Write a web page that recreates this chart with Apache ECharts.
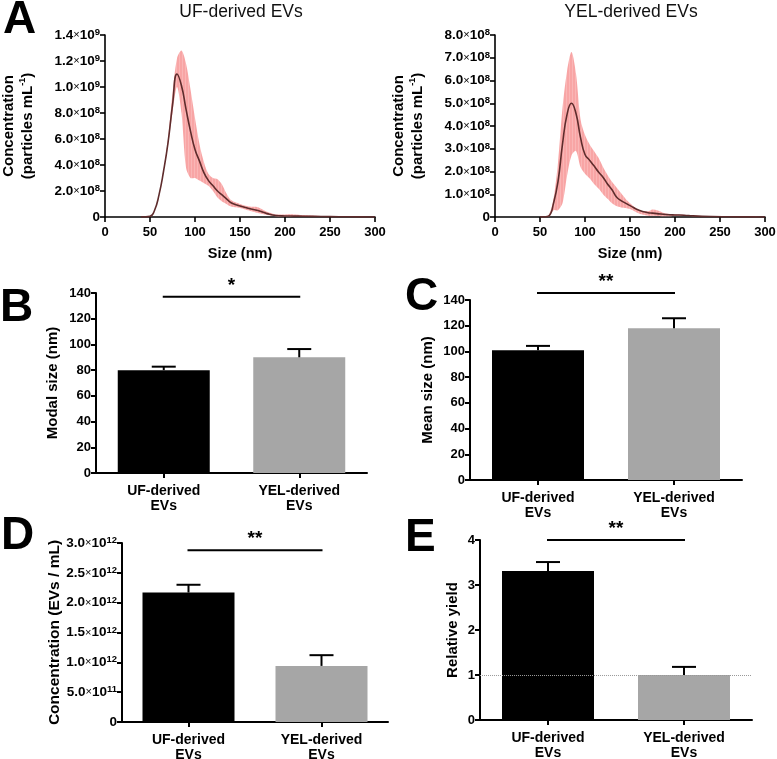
<!DOCTYPE html>
<html>
<head>
<meta charset="utf-8">
<script src="https://cdn.jsdelivr.net/npm/echarts@6/dist/echarts.min.js"></script>
<style>html,body{margin:0;padding:0;background:#fff}#c{width:777px;height:759px}</style>
</head>
<body>
<div id="c"></div>
<script>
// ---------- DATA ----------
// Panel A (left): UF-derived EVs size distribution (particles/mL)
const ufSize  = [40, 50, 55, 60, 65, 70, 75, 80, 85, 90, 95, 100, 105, 110, 115, 120, 125, 130, 135, 140, 150, 160, 170, 180, 190, 200, 210, 220, 240, 260, 280, 300];
const ufMean  = [0, 0.005e9, 0.05e9, 0.17e9, 0.35e9, 0.57e9, 0.86e9, 1.10e9, 1.01e9, 0.83e9, 0.66e9, 0.52e9, 0.43e9, 0.34e9, 0.28e9, 0.24e9, 0.20e9, 0.17e9, 0.14e9, 0.11e9, 0.085e9, 0.065e9, 0.05e9, 0.026e9, 0.011e9, 0.008e9, 0.007e9, 0.006e9, 0.004e9, 0.002e9, 0.001e9, 0];
const ufUpper = [0, 0.005e9, 0.05e9, 0.17e9, 0.36e9, 0.60e9, 0.95e9, 1.22e9, 1.28e9, 1.18e9, 0.98e9, 0.76e9, 0.56e9, 0.42e9, 0.33e9, 0.30e9, 0.29e9, 0.25e9, 0.18e9, 0.13e9, 0.10e9, 0.08e9, 0.075e9, 0.04e9, 0.02e9, 0.02e9, 0.02e9, 0.015e9, 0.008e9, 0.004e9, 0.002e9, 0];
const ufLower = [0, 0.005e9, 0.05e9, 0.16e9, 0.34e9, 0.55e9, 0.80e9, 1.00e9, 0.80e9, 0.38e9, 0.30e9, 0.30e9, 0.28e9, 0.26e9, 0.24e9, 0.20e9, 0.15e9, 0.12e9, 0.10e9, 0.08e9, 0.07e9, 0.05e9, 0.03e9, 0.015e9, 0.005e9, 0.003e9, 0.002e9, 0.002e9, 0.001e9, 0, 0, 0];

// Panel A (right): YEL-derived EVs size distribution (particles/mL)
const yelSize  = [50, 55, 60, 65, 70, 75, 80, 85, 90, 95, 100, 105, 110, 115, 120, 125, 130, 135, 140, 145, 150, 160, 170, 175, 180, 190, 200, 210, 220, 240, 260, 280, 300];
const yelMean  = [0, 0.005e8, 0.05e8, 0.6e8, 1.55e8, 3.2e8, 4.5e8, 5.0e8, 4.55e8, 3.5e8, 2.75e8, 2.5e8, 2.25e8, 1.98e8, 1.75e8, 1.45e8, 1.2e8, 0.88e8, 0.72e8, 0.61e8, 0.5e8, 0.3e8, 0.19e8, 0.17e8, 0.15e8, 0.11e8, 0.09e8, 0.08e8, 0.05e8, 0.02e8, 0.01e8, 0.005e8, 0];
const yelUpper = [0, 0.01e8, 0.1e8, 0.8e8, 2.4e8, 4.8e8, 6.4e8, 7.25e8, 6.3e8, 4.3e8, 3.6e8, 3.2e8, 2.9e8, 2.6e8, 2.2e8, 1.85e8, 1.55e8, 1.3e8, 1.05e8, 0.8e8, 0.6e8, 0.3e8, 0.25e8, 0.33e8, 0.3e8, 0.15e8, 0.12e8, 0.1e8, 0.07e8, 0.03e8, 0.015e8, 0.008e8, 0];
const yelLower = [0, 0, 0.02e8, 0.3e8, 0.3e8, 0.6e8, 1.8e8, 2.7e8, 2.9e8, 2.2e8, 1.9e8, 1.7e8, 1.45e8, 1.25e8, 1.0e8, 0.8e8, 0.6e8, 0.48e8, 0.42e8, 0.4e8, 0.35e8, 0.15e8, 0.05e8, 0.05e8, 0.04e8, 0.03e8, 0.04e8, 0.05e8, 0.03e8, 0.01e8, 0.005e8, 0.002e8, 0];

// Bar panels
const groups = ['UF-derived\nEVs', 'YEL-derived\nEVs'];
const modalSize = [80, 90];        const modalSD = [2.7, 6.4];
const meanSize  = [101, 118];      const meanSD  = [3.3, 7.8];
const concEV    = [2.17e12, 0.94e12]; const concSD = [0.13e12, 0.18e12];
const relYield  = [3.31, 1.0];     const yieldSD = [0.2, 0.18];
const sigLevels = [137, 145.5, 2.88e12, 4.0];
const sigLabels = ['*', '**', '**', '**'];
const refLineYield = [1];

// ---------- HELPERS ----------
const FONT = 'Arial, "Liberation Sans", Helvetica, sans-serif';
const pairs = (xs, ys) => xs.map((x, i) => [x, ys[i]]);

function sci(v) {
  if (v === 0) return '{m|0}';
  const e = Math.floor(Math.log10(v) + 1e-9);
  const m = (v / Math.pow(10, e)).toFixed(1);
  return '{m|' + m + '}{x|×}{m|10}{s|' + e + '}';
}
const sciRich = {
  m: {fontFamily: FONT, fontWeight: 'bold', fontSize: 13.5, color: '#000', lineHeight: 15},
  x: {fontFamily: FONT, fontSize: 11, color: '#000', lineHeight: 15},
  s: {fontFamily: FONT, fontWeight: 'bold', fontSize: 9.5, color: '#000', verticalAlign: 'top', lineHeight: 15, padding: [0, 0, 6, 0]}
};

const axLine = w => ({show: true, lineStyle: {color: '#000', width: w}});
const axTick = w => ({show: true, length: 5, lineStyle: {color: '#000', width: w}});
const lblStyle = (fs) => ({color: '#000', fontWeight: 'bold', fontSize: fs, fontFamily: FONT});

// subtly striped pink pattern for the SD band
const pat = document.createElement('canvas');
pat.width = 3; pat.height = 3;
(function () {
  const c = pat.getContext('2d');
  c.fillStyle = '#f8a5a5'; c.fillRect(0, 0, 3, 3);
  c.fillStyle = '#fab6b6'; c.fillRect(2, 0, 1, 3);
})();

const grids = [
  {left: 105, top: 35, width: 270, height: 182},   // A left
  {left: 495, top: 35, width: 270, height: 182},   // A right
  {left: 96,  top: 293, width: 271, height: 180},  // B
  {left: 470, top: 300, width: 272, height: 180},  // C
  {left: 122, top: 543, width: 266, height: 179},  // D
  {left: 480, top: 540, width: 272, height: 180}   // E
].map(g => Object.assign(g, {containLabel: false, outerBoundsMode: 'none'}));

function sizeX(gi) {
  return {
    type: 'value', gridIndex: gi, min: 0, max: 300, interval: 50,
    axisLine: axLine(1.6), axisTick: axTick(1.6), splitLine: {show: false},
    axisLabel: Object.assign(lblStyle(13), {margin: 9}),
    name: 'Size (nm)', nameLocation: 'middle', nameGap: 29,
    nameTextStyle: lblStyle(14.5)
  };
}
function concY(gi, max, interval) {
  return {
    type: 'value', gridIndex: gi, min: 0, max: max, interval: interval,
    axisLine: axLine(1.6), axisTick: axTick(1.6), splitLine: {show: false},
    axisLabel: {formatter: sci, rich: sciRich, margin: 5},
    name: '{b|Concentration}\n{b|(particles mL}{s|-1}{b|)}',
    nameLocation: 'middle', nameGap: 68,
    nameTextStyle: {rich: {
      b: {fontFamily: FONT, fontWeight: 'bold', fontSize: 15, color: '#000', lineHeight: 19},
      s: {fontFamily: FONT, fontWeight: 'bold', fontSize: 9, color: '#000', lineHeight: 19, verticalAlign: 'top', padding: [0, 0, 8, 0]}
    }}
  };
}
function catX(gi) {
  return {
    type: 'category', gridIndex: gi, data: groups,
    axisLine: axLine(2), axisTick: Object.assign(axTick(2), {alignWithLabel: true}),
    axisLabel: Object.assign(lblStyle(14), {lineHeight: 15, margin: 11, interval: 0})
  };
}
function valY(gi, max, interval, name, gap, fmt, nfs) {
  const o = {
    type: 'value', gridIndex: gi, min: 0, max: max, interval: interval,
    axisLine: axLine(2), axisTick: axTick(2), splitLine: {show: false},
    axisLabel: Object.assign(lblStyle(13), {margin: 5}),
    name: name, nameLocation: 'middle', nameGap: gap, nameTextStyle: lblStyle(nfs || 15)
  };
  if (fmt) { o.axisLabel = {formatter: fmt, rich: sciRich, margin: 5}; }
  return o;
}

function bandSeries(xi, xs, lo, hi, mean) {
  return [
    {type: 'custom', xAxisIndex: xi, yAxisIndex: xi, silent: true, z: 2,
     data: [[xs[0], lo[0]]], encode: {x: 0, y: 1},
     renderItem: (params, api) => {
       const top = xs.map((x, i) => api.coord([x, hi[i]]));
       const bot = xs.map((x, i) => api.coord([x, lo[i]])).reverse();
       return {type: 'polygon', shape: {points: top.concat(bot), smooth: 0.3},
               style: {fill: {image: pat, repeat: 'repeat'}}};
     }},
    {type: 'line', xAxisIndex: xi, yAxisIndex: xi, data: pairs(xs, mean),
     symbol: 'none', smooth: 0.5, lineStyle: {color: '#5e2c2c', width: 1.6}, z: 5}
  ];
}

const barColors = ['#000000', '#a6a6a6'];
function barSeries(gi, vals, sds, sigIdx, extra) {
  return [
    Object.assign({type: 'bar', xAxisIndex: gi, yAxisIndex: gi, barWidth: 92,
      data: vals.map((v, i) => ({value: v, itemStyle: {color: barColors[i]}}))}, extra || {}),
    {type: 'custom', xAxisIndex: gi, yAxisIndex: gi, z: 4,
      data: vals.map((v, i) => [i, v, v + sds[i]]),
      encode: {x: 0, y: [1, 2]},
      renderItem: (params, api) => {
        const p0 = api.coord([api.value(0), api.value(1)]);
        const p1 = api.coord([api.value(0), api.value(2)]);
        return {type: 'group', children: [
          {type: 'line', shape: {x1: p0[0], y1: p0[1], x2: p1[0], y2: p1[1]}, style: {stroke: '#000', lineWidth: 2}},
          {type: 'line', shape: {x1: p1[0] - 12, y1: p1[1], x2: p1[0] + 12, y2: p1[1]}, style: {stroke: '#000', lineWidth: 2}}
        ]};
      }},
    {type: 'custom', xAxisIndex: gi, yAxisIndex: gi, z: 4, clip: false,
      data: [[0, 1, sigLevels[sigIdx]]],
      encode: {x: [0, 1], y: 2},
      renderItem: (params, api) => {
        const a = api.coord([0, api.value(2)]);
        const b = api.coord([1, api.value(2)]);
        return {type: 'group', children: [
          {type: 'line', shape: {x1: a[0] - 1, y1: a[1], x2: b[0] + 1, y2: b[1]}, style: {stroke: '#000', lineWidth: 2}},
          {type: 'text', x: (a[0] + b[0]) / 2, y: a[1] - 2,
           style: {text: sigLabels[sigIdx], fill: '#000', font: 'bold 19px ' + FONT, align: 'center', verticalAlign: 'bottom'}}
        ]};
      }}
  ];
}

const letter = (t, x, y) => ({type: 'text', x: x, y: y,
  style: {text: t, fill: '#000', font: 'bold 46px ' + FONT, align: 'left', verticalAlign: 'middle'}});
const titleTxt = (t, x, y) => ({type: 'text', x: x, y: y,
  style: {text: t, fill: '#111', font: '17.5px ' + FONT, align: 'center', verticalAlign: 'middle'}});

const option = {
  animation: false,
  backgroundColor: '#fff',
  grid: grids,
  graphic: [
    letter('A', 3, 20), letter('B', 0, 308), letter('C', 405, 297), letter('D', 1, 536), letter('E', 405, 538),
    titleTxt('UF-derived EVs', 241, 12), titleTxt('YEL-derived EVs', 631, 12)
  ],
  xAxis: [sizeX(0), sizeX(1), catX(2), catX(3), catX(4), catX(5)],
  yAxis: [
    concY(0, 1.4e9, 2e8),
    concY(1, 8e8, 1e8),
    valY(2, 140, 20, 'Modal size (nm)', 36),
    valY(3, 140, 20, 'Mean size (nm)', 35),
    valY(4, 3e12, 5e11, 'Concentration (EVs / mL)', 59, sci, 15.5),
    valY(5, 4, 1, 'Relative yield', 20)
  ],
  series: [].concat(
    bandSeries(0, ufSize, ufLower, ufUpper, ufMean),
    bandSeries(1, yelSize, yelLower, yelUpper, yelMean),
    barSeries(2, modalSize, modalSD, 0),
    barSeries(3, meanSize, meanSD, 1),
    barSeries(4, concEV, concSD, 2),
    barSeries(5, relYield, yieldSD, 3, {
      markLine: {silent: true, symbol: 'none', label: {show: false},
        lineStyle: {color: '#999', type: 'dotted', width: 1},
        data: refLineYield.map(v => ({yAxis: v}))}
    })
  )
};

const chart = echarts.init(document.getElementById('c'), null, {renderer: 'canvas'});
chart.setOption(option);
</script>
</body>
</html>
